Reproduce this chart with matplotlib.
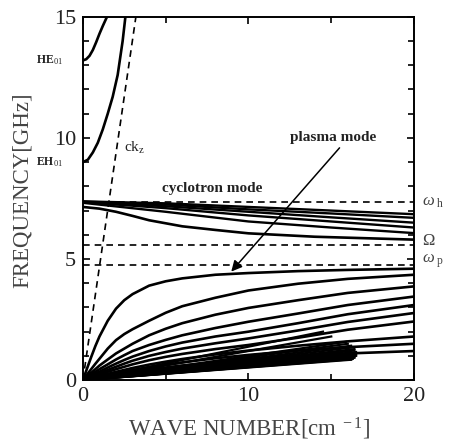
import numpy as np
import matplotlib
matplotlib.use('Agg')
import matplotlib.pyplot as plt
from matplotlib.ticker import MultipleLocator

plt.rcParams['font.family'] = ['Liberation Serif', 'DejaVu Serif']
plt.rcParams['mathtext.fontset'] = 'custom'
plt.rcParams['mathtext.rm'] = 'Liberation Serif'
plt.rcParams['mathtext.it'] = 'Liberation Serif:italic'

# waveguide modes (k in cm^-1, f in GHz)
he01_k = [0, 0.2, 0.4, 0.6, 0.8, 1.0, 1.2, 1.4, 1.6]
he01_f = [13.2, 13.25, 13.39, 13.63, 13.95, 14.3, 14.62, 14.92, 15.2]
eh01_k = [0, 0.3, 0.6, 0.9, 1.2, 1.5, 1.8, 2.1, 2.4, 2.6]
eh01_f = [9.0, 9.1, 9.4, 9.8, 10.35, 11.0, 11.7, 12.6, 14.0, 15.2]

# light line ck_z
ckz_k = [0, 3.2]
ckz_f = [0, 15]

# characteristic frequencies
omega_h = 7.35
Omega = 5.58
omega_p = 4.75

# cyclotron modes
cyc_k = [0, 5, 10, 15, 20]
cyc_f = [
    [7.38, 7.30, 7.15, 7.00, 6.85],
    [7.37, 7.25, 7.05, 6.88, 6.70],
    [7.36, 7.18, 6.95, 6.72, 6.50],
    [7.35, 7.10, 6.80, 6.55, 6.30],
    [7.32, 6.95, 6.55, 6.30, 6.07],
]
cyc_low_k = [0, 1, 2, 3, 4, 6, 8, 10, 14, 20]
cyc_low_f = [7.15, 7.08, 6.95, 6.78, 6.6, 6.35, 6.2, 6.06, 5.92, 5.8]

# plasma modes
pl_k = [0, 0.25, 0.5, 0.75, 1, 1.5, 2, 2.5, 3, 4, 5, 6, 8, 10, 13, 16, 20]
pl_f = [
    [0, 0.48, 0.95, 1.40, 1.80, 2.45, 2.95, 3.30, 3.55, 3.90, 4.08, 4.20, 4.35, 4.42, 4.50, 4.55, 4.60],
    [0, 0.23, 0.45, 0.67, 0.88, 1.30, 1.65, 1.90, 2.10, 2.45, 2.78, 3.05, 3.40, 3.70, 3.98, 4.18, 4.35],
    [0, 0.15, 0.30, 0.45, 0.60, 0.85, 1.10, 1.30, 1.50, 1.85, 2.12, 2.35, 2.70, 2.98, 3.30, 3.60, 3.87],
    [0, 0.12, 0.23, 0.34, 0.45, 0.65, 0.85, 1.03, 1.20, 1.45, 1.66, 1.85, 2.15, 2.41, 2.75, 3.10, 3.45],
    [0, 0.09, 0.18, 0.27, 0.35, 0.52, 0.68, 0.83, 0.97, 1.20, 1.39, 1.55, 1.80, 2.00, 2.35, 2.72, 3.10],
    [0, 0.07, 0.14, 0.21, 0.28, 0.42, 0.55, 0.68, 0.80, 1.00, 1.16, 1.30, 1.52, 1.72, 2.05, 2.40, 2.77],
    [0, 0.055, 0.11, 0.17, 0.22, 0.34, 0.45, 0.55, 0.65, 0.82, 0.96, 1.08, 1.28, 1.45, 1.75, 2.08, 2.42],
    [0, 0.045, 0.09, 0.13, 0.17, 0.26, 0.34, 0.42, 0.50, 0.64, 0.76, 0.87, 1.06, 1.22, 1.42, 1.60, 1.80],
    [0, 0.035, 0.07, 0.105, 0.14, 0.21, 0.28, 0.35, 0.41, 0.53, 0.64, 0.73, 0.90, 1.04, 1.22, 1.36, 1.50],
    [0, 0.03, 0.06, 0.085, 0.11, 0.17, 0.22, 0.28, 0.33, 0.43, 0.52, 0.60, 0.74, 0.86, 1.00, 1.10, 1.20],
]

# dense band of higher order plasma modes (end points)
band_k_end = [14.5, 15.0, 15.9, 16.0, 16.2, 16.3, 16.4, 16.4, 16.5, 16.5,
              16.5, 16.5, 16.4, 16.4, 16.3, 16.3, 16.2, 16.2]
band_f_end = [2.0, 1.8, 1.58, 1.5, 1.42, 1.35, 1.28, 1.22, 1.16, 1.1,
              1.05, 1.0, 0.96, 0.92, 0.9, 0.88, 0.86, 0.84]

fig = plt.figure(figsize=(4.53, 4.43), dpi=100)
ax = fig.add_axes([0.183, 0.142, 0.731, 0.820])

lw = 1.9
ax.plot(he01_k, he01_f, color='k', lw=lw)
ax.plot(eh01_k, eh01_f, color='k', lw=lw)
ax.plot(ckz_k, ckz_f, color='k', lw=1.2, ls=(0, (4, 3)))

for f0 in [omega_h, Omega, omega_p]:
    ax.plot([0, 20], [f0, f0], color='k', lw=1.2, ls=(0, (4, 3)))

for f in cyc_f:
    ax.plot(cyc_k, f, color='k', lw=1.7)
ax.plot(cyc_low_k, cyc_low_f, color='k', lw=lw)

for f in pl_f:
    ax.plot(pl_k, f, color='k', lw=lw)

for ke, fe in zip(band_k_end, band_f_end):
    ax.plot([0, ke], [0, fe], color='k', lw=1.6)

ax.annotate('', xy=(8.96, 4.48), xytext=(15.5, 9.59),
            arrowprops=dict(arrowstyle='-|>', lw=1.1, color='k',
                            mutation_scale=16, shrinkA=0, shrinkB=0))

ax.text(15.1, 10.0, 'plasma mode', fontsize=11, fontweight='bold',
        ha='center', va='center', color='#222')
ax.text(7.8, 7.93, 'cyclotron mode', fontsize=11, fontweight='bold',
        ha='center', va='center', color='#222')
ax.text(2.5, 9.6, r'ck$_{\rm z}$', fontsize=11, ha='left', va='center', color='#222')

ax.text(-1.2, 13.2, r'HE$_{01}$', fontsize=8.5, fontweight='bold',
        ha='right', va='center', color='#222')
ax.text(-1.2, 9.0, r'EH$_{01}$', fontsize=8.5, fontweight='bold',
        ha='right', va='center', color='#222')

ax.text(20.5, omega_h, r'$\omega_{\ \rm h}$', fontsize=12, ha='left', va='center', color='#444')
ax.text(20.5, 5.75, r'$\Omega$', fontsize=12, ha='left', va='center', color='#444')
ax.text(20.5, 4.9, r'$\omega_{\ \rm p}$', fontsize=12, ha='left', va='center', color='#444')

ax.set_xlim(0, 20)
ax.set_ylim(0, 15)
ax.xaxis.set_major_locator(MultipleLocator(10))
ax.xaxis.set_minor_locator(MultipleLocator(5))
ax.yaxis.set_major_locator(MultipleLocator(5))
ax.yaxis.set_minor_locator(MultipleLocator(1))
ax.tick_params(which='both', direction='in', top=True, right=True,
               width=1.2, labelsize=16, colors='k', labelcolor='#222')
ax.tick_params(which='major', length=5, pad=5)
ax.tick_params(which='minor', length=4)
for s in ax.spines.values():
    s.set_linewidth(1.4)

ax.set_xlabel(r'WAVE NUMBER[cm$^{\ -1}$]', fontsize=16.5, color='#444', labelpad=7)
ax.set_ylabel('FREQUENCY[GHz]', fontsize=16.5, color='#444')
ax.yaxis.set_label_coords(-0.15, 0.523)

fig.savefig('out.png', dpi=100)
